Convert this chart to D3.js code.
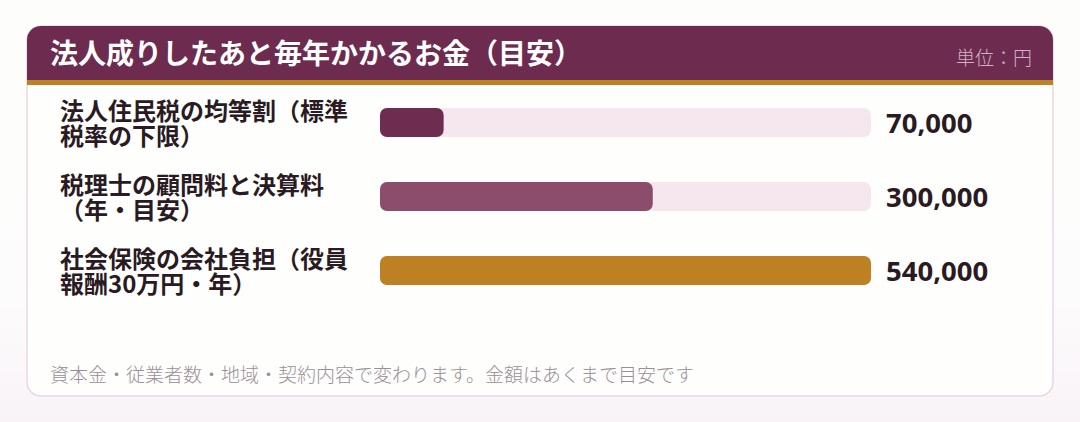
<!DOCTYPE html>
<html>
<head>
<meta charset="utf-8">
<script src="https://cdn.jsdelivr.net/npm/d3@7"></script>
<style>
  html, body { margin: 0; padding: 0; }
  body { width: 1080px; height: 422px; overflow: hidden;
         background: linear-gradient(#fdfefc 0%, #fdfcfc 70%, #f9f3f8 100%); }
  #chart { width: 1080px; height: 422px; }
</style>
</head>
<body>
<div id="chart"></div>
<script>
// categories (two lines each) and values in yen
const labelLines = [
  ["法人住民税の均等割（標準", "税率の下限）"],
  ["税理士の顧問料と決算料", "（年・目安）"],
  ["社会保険の会社負担（役員", "報酬30万円・年）"],
];
const values = [70000, 300000, 540000];
const barColors = ["#6e2c50", "#8c4d6c", "#bd8124"];
const title = "法人成りしたあと毎年かかるお金（目安）";
const unitText = "単位：円";
const note = "資本金・従業者数・地域・契約内容で変わります。金額はあくまで目安です";

const W = 1080, H = 422;
const card = { x: 27, y: 26, w: 1026, h: 370, r: 14 };
const headerH = 54;

const svg = d3.select("#chart").append("svg")
  .attr("width", W).attr("height", H);

const clip = svg.append("defs").append("clipPath").attr("id", "cardClip");
clip.append("rect")
  .attr("x", card.x).attr("y", card.y)
  .attr("width", card.w).attr("height", card.h)
  .attr("rx", card.r);

// card body
svg.append("rect")
  .attr("x", card.x).attr("y", card.y)
  .attr("width", card.w).attr("height", card.h)
  .attr("rx", card.r)
  .attr("fill", "#fefffd")
  .attr("stroke", "#ead7e2").attr("stroke-width", 1.5);

const head = svg.append("g").attr("clip-path", "url(#cardClip)");
head.append("rect")
  .attr("x", card.x).attr("y", card.y)
  .attr("width", card.w).attr("height", headerH)
  .attr("fill", "#6d2c4f");
head.append("rect")
  .attr("x", card.x).attr("y", card.y + headerH)
  .attr("width", card.w).attr("height", 5)
  .attr("fill", "#bd8124");

svg.append("text")
  .attr("x", 50).attr("y", 64)
  .attr("font-family", "'Noto Sans CJK JP', sans-serif")
  .attr("font-weight", 700).attr("font-size", 28)
  .attr("fill", "#ffffff")
  .text(title);

svg.append("text")
  .attr("x", 1032).attr("y", 65)
  .attr("text-anchor", "end")
  .attr("font-family", "'Noto Sans CJK JP', sans-serif")
  .attr("font-weight", 300)
  .attr("font-size", 19)
  .attr("fill", "#d2b3c4")
  .text(unitText);

// scales
const x = d3.scaleLinear().domain([0, 540000]).range([380, 871]);
const y = d3.scaleBand().domain(d3.range(values.length))
  .range([85.5, 307.5]).paddingInner(0.6).paddingOuter(0.3);

const rows = svg.selectAll("g.row")
  .data(values.map((v, i) => ({ v, i, lines: labelLines[i], color: barColors[i] })))
  .enter().append("g").attr("class", "row");

const barH = 29;
const cy = (d) => y(d.i) + y.bandwidth() / 2;

rows.append("rect")
  .attr("x", x(0)).attr("y", (d) => cy(d) - barH / 2)
  .attr("width", x(540000) - x(0)).attr("height", barH)
  .attr("rx", 7)
  .attr("fill", "#f6e7ef");

rows.append("rect")
  .attr("x", x(0)).attr("y", (d) => cy(d) - barH / 2)
  .attr("width", (d) => x(d.v) - x(0)).attr("height", barH)
  .attr("rx", 7)
  .attr("fill", (d) => d.color);

// two label lines as separate texts
rows.selectAll("text.lbl")
  .data((d) => d.lines.map((t, k) => ({ t, k, c: cy(d) })))
  .enter().append("text")
  .attr("class", "lbl")
  .attr("x", 60)
  .attr("y", (s) => s.c - 2.5 + s.k * 24.5)
  .attr("font-family", "'Noto Sans CJK JP', sans-serif")
  .attr("font-weight", 700).attr("font-size", 24)
  .attr("fill", "#2a1a24")
  .text((s) => s.t);

rows.append("text")
  .attr("x", 886).attr("y", (d) => cy(d) + 10.5)
  .attr("font-family", "'Noto Sans', sans-serif")
  .attr("font-weight", 700).attr("font-size", 27.5)
  .attr("fill", "#2a1a24")
  .text((d) => d3.format(",")(d.v));

svg.append("text")
  .attr("x", 50).attr("y", 382)
  .attr("font-family", "'Noto Sans CJK JP', sans-serif")
  .attr("font-weight", 300)
  .attr("font-size", 19)
  .attr("fill", "#9c8e96")
  .text(note);
</script>
</body>
</html>
